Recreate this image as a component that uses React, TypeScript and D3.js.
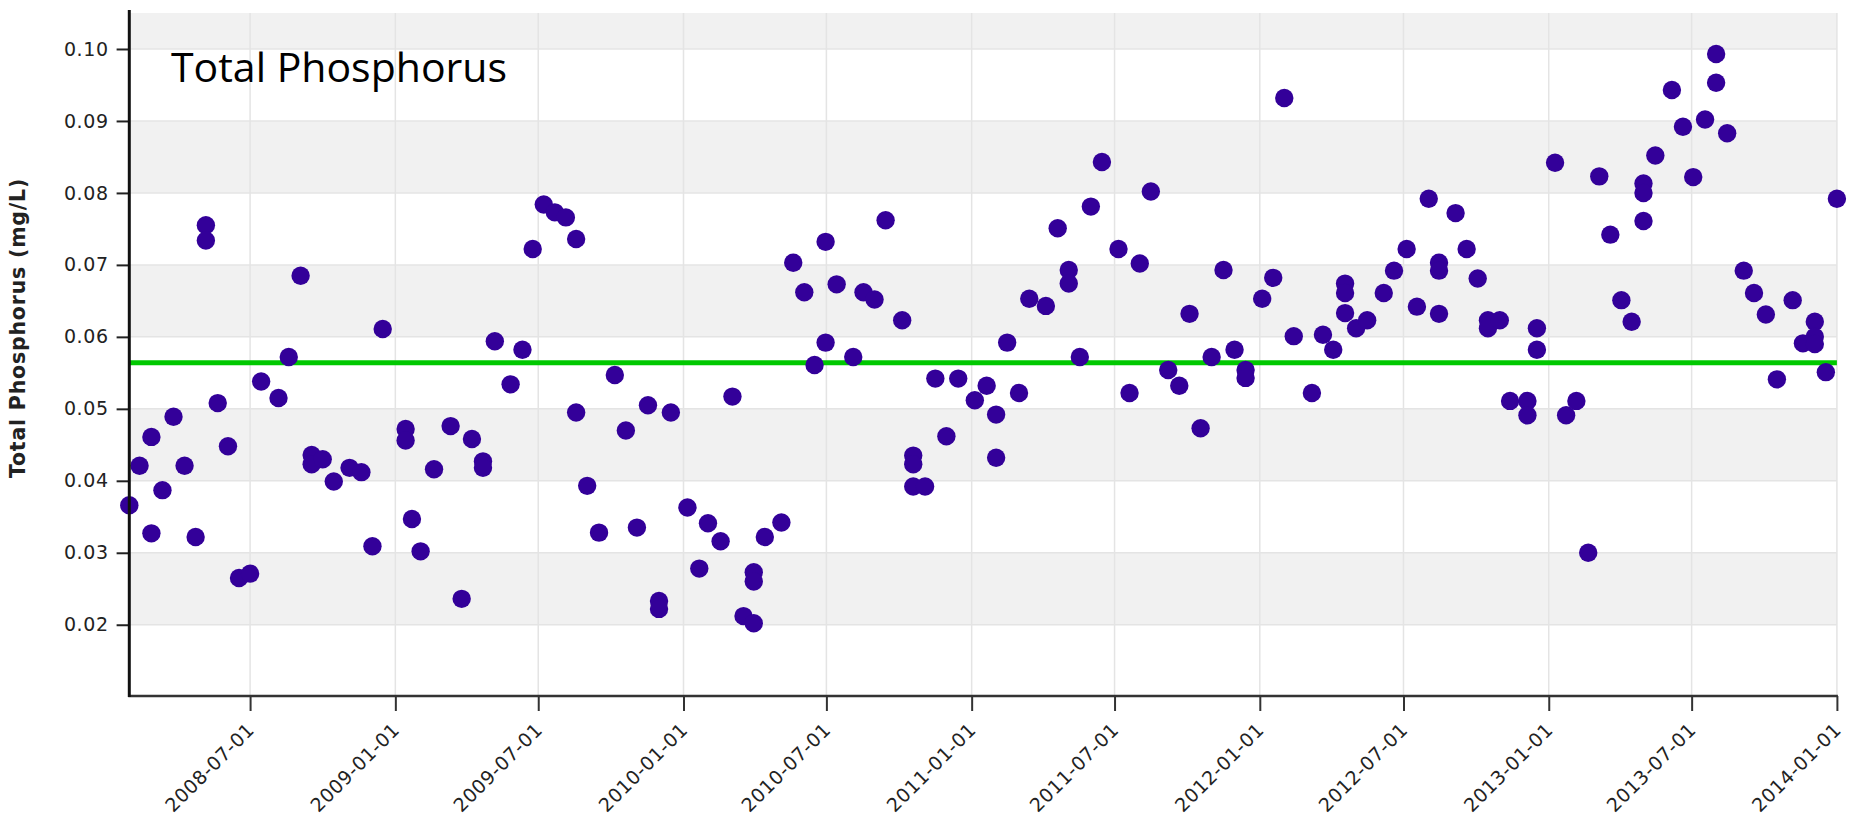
import React, { useEffect, useRef } from "react";
import * as d3 from "d3";

// ---- data ----
const sampleDates: string[] = [
  "2008-01-30","2008-02-12","2008-02-27","2008-02-27","2008-03-12","2008-03-26","2008-04-09","2008-04-23","2008-05-06","2008-05-06",
  "2008-05-21","2008-06-03","2008-06-17","2008-07-01","2008-07-15","2008-08-06","2008-08-19","2008-09-03","2008-09-17","2008-09-17",
  "2008-10-01","2008-10-15","2008-11-04","2008-11-19","2008-12-03","2008-12-16","2009-01-14","2009-01-14","2009-01-22","2009-02-02",
  "2009-02-19","2009-03-12","2009-03-26","2009-04-08","2009-04-22","2009-04-22","2009-05-07","2009-05-27","2009-06-11","2009-06-24",
  "2009-07-08","2009-07-22","2009-08-05","2009-08-18","2009-08-18","2009-09-01","2009-09-16","2009-10-06","2009-10-20","2009-11-03",
  "2009-11-17","2009-12-01","2009-12-01","2009-12-16","2010-01-06","2010-01-21","2010-02-01","2010-02-17","2010-03-04","2010-03-18",
  "2010-03-31","2010-03-31","2010-03-31","2010-04-14","2010-05-05","2010-05-20","2010-06-03","2010-06-16","2010-06-30","2010-06-30",
  "2010-07-14","2010-08-04","2010-08-17","2010-08-31","2010-09-14","2010-10-05","2010-10-19","2010-10-19","2010-10-19","2010-11-03",
  "2010-11-16","2010-11-30","2010-12-15","2011-01-05","2011-01-20","2011-02-01","2011-02-01","2011-02-15","2011-03-02","2011-03-15",
  "2011-04-05","2011-04-20","2011-05-04","2011-05-04","2011-05-18","2011-06-01","2011-06-15","2011-07-06","2011-07-20","2011-08-02",
  "2011-08-16","2011-09-07","2011-09-21","2011-10-04","2011-10-18","2011-11-01","2011-11-16","2011-11-30","2011-12-14","2011-12-14",
  "2012-01-04","2012-01-18","2012-02-01","2012-02-13","2012-03-07","2012-03-21","2012-04-03","2012-04-18","2012-04-18","2012-04-18",
  "2012-05-02","2012-05-16","2012-06-06","2012-06-19","2012-07-05","2012-07-18","2012-08-02","2012-08-15","2012-08-15","2012-08-15",
  "2012-09-05","2012-09-19","2012-10-03","2012-10-16","2012-10-16","2012-10-31","2012-11-13","2012-12-05","2012-12-05","2012-12-17",
  "2012-12-17","2013-01-09","2013-01-23","2013-02-05","2013-02-20","2013-03-06","2013-03-20","2013-04-03","2013-04-16","2013-05-01",
  "2013-05-01","2013-05-01","2013-05-16","2013-06-06","2013-06-20","2013-07-03","2013-07-18","2013-08-01","2013-08-01","2013-08-15",
  "2013-09-05","2013-09-18","2013-10-03","2013-10-17","2013-11-06","2013-11-19","2013-12-04","2013-12-04","2013-12-04","2013-12-18",
  "2014-01-01",
];

const tpValues: number[] = [
  0.0366, 0.0421, 0.0461, 0.0327, 0.0387, 0.0489, 0.0421, 0.0322, 0.0755, 0.0734,
  0.0508, 0.0448, 0.0265, 0.0271, 0.0538, 0.0515, 0.0572, 0.0685, 0.0436, 0.0423,
  0.0430, 0.0399, 0.0418, 0.0412, 0.0309, 0.0611, 0.0472, 0.0456, 0.0347, 0.0302,
  0.0416, 0.0476, 0.0236, 0.0458, 0.0427, 0.0418, 0.0594, 0.0534, 0.0582, 0.0722,
  0.0784, 0.0773, 0.0766, 0.0736, 0.0495, 0.0393, 0.0328, 0.0547, 0.0470, 0.0335,
  0.0505, 0.0233, 0.0222, 0.0495, 0.0363, 0.0278, 0.0341, 0.0316, 0.0517, 0.0212,
  0.0273, 0.0260, 0.0202, 0.0322, 0.0342, 0.0703, 0.0662, 0.0561, 0.0732, 0.0592,
  0.0673, 0.0572, 0.0662, 0.0652, 0.0762, 0.0623, 0.0435, 0.0423, 0.0392, 0.0392,
  0.0542, 0.0462, 0.0542, 0.0512, 0.0532, 0.0492, 0.0432, 0.0592, 0.0522, 0.0653,
  0.0643, 0.0751, 0.0693, 0.0674, 0.0572, 0.0781, 0.0843, 0.0722, 0.0522, 0.0702,
  0.0802, 0.0554, 0.0532, 0.0632, 0.0473, 0.0572, 0.0693, 0.0582, 0.0554, 0.0543,
  0.0653, 0.0682, 0.0932, 0.0601, 0.0522, 0.0603, 0.0582, 0.0674, 0.0661, 0.0633,
  0.0612, 0.0623, 0.0661, 0.0692, 0.0722, 0.0642, 0.0792, 0.0703, 0.0692, 0.0632,
  0.0772, 0.0722, 0.0681, 0.0623, 0.0612, 0.0623, 0.0511, 0.0511, 0.0491, 0.0612,
  0.0582, 0.0842, 0.0491, 0.0511, 0.0300, 0.0823, 0.0742, 0.0651, 0.0621, 0.0813,
  0.0800, 0.0761, 0.0852, 0.0943, 0.0892, 0.0822, 0.0902, 0.0993, 0.0953, 0.0883,
  0.0692, 0.0661, 0.0631, 0.0541, 0.0651, 0.0591, 0.0621, 0.0600, 0.0590, 0.0551,
  0.0792,
];

const yTickValues: number[] = [0.02, 0.03, 0.04, 0.05, 0.06, 0.07, 0.08, 0.09, 0.10];
const yDomain: [number, number] = [0.0101, 0.105];
const meanValue = 0.0564;
const chartTitle = "Total Phosphorus";
const yAxisTitle = "Total Phosphorus (mg/L)";

// ---- layout ----
const W = 1851;
const H = 822;
const PLOT = { left: 129.3, right: 1836.9, top: 13, bottom: 696 };

export default function App() {
  const ref = useRef<SVGSVGElement | null>(null);

  useEffect(() => {
    const svg = d3.select(ref.current);
    svg.selectAll("*").remove();

    const parse = d3.timeParse("%Y-%m-%d");
    const data = sampleDates.map((d, i) => ({ date: parse(d) as Date, value: tpValues[i] }));

    const x = d3
      .scaleTime()
      .domain(d3.extent(data, (d) => d.date) as [Date, Date])
      .range([PLOT.left, PLOT.right]);
    const y = d3.scaleLinear().domain(yDomain).range([PLOT.bottom, PLOT.top]);

    svg.append("rect").attr("width", W).attr("height", H).attr("fill", "#ffffff");

    // alternating bands
    const edges = [yDomain[0], ...yTickValues, yDomain[1]];
    const bands = d3.range(edges.length - 1).map((i) => ({ lo: edges[i], hi: edges[i + 1], grey: i % 2 === 1 }));
    svg
      .append("g")
      .selectAll("rect")
      .data(bands.filter((b) => b.grey))
      .join("rect")
      .attr("x", PLOT.left)
      .attr("width", PLOT.right - PLOT.left)
      .attr("y", (b) => y(b.hi))
      .attr("height", (b) => y(b.lo) - y(b.hi))
      .attr("fill", "#f1f1f1");

    const xTicks = x.ticks(d3.timeMonth.every(6) as d3.TimeInterval);

    // grid lines
    svg
      .append("g")
      .selectAll("line")
      .data(yTickValues)
      .join("line")
      .attr("x1", PLOT.left)
      .attr("x2", PLOT.right)
      .attr("y1", (d) => y(d))
      .attr("y2", (d) => y(d))
      .attr("stroke", "#e4e4e4")
      .attr("stroke-width", 1.5);
    svg
      .append("g")
      .selectAll("line")
      .data(xTicks)
      .join("line")
      .attr("x1", (d) => x(d))
      .attr("x2", (d) => x(d))
      .attr("y1", PLOT.top)
      .attr("y2", PLOT.bottom)
      .attr("stroke", "#e4e4e4")
      .attr("stroke-width", 1.5);

    // mean line
    svg
      .append("line")
      .attr("x1", PLOT.left)
      .attr("x2", PLOT.right)
      .attr("y1", y(meanValue))
      .attr("y2", y(meanValue))
      .attr("stroke", "#00c800")
      .attr("stroke-width", 5);

    // points
    svg
      .append("g")
      .selectAll("circle")
      .data(data)
      .join("circle")
      .attr("cx", (d) => x(d.date))
      .attr("cy", (d) => y(d.value))
      .attr("r", 9.2)
      .attr("fill", "#330099");

    // y axis
    const yAxis = d3
      .axisLeft(y)
      .tickValues(yTickValues)
      .tickFormat(d3.format(".2f") as any)
      .tickSize(12.7)
      .tickSizeOuter(0)
      .tickPadding(8);
    const gy = svg.append("g").attr("transform", `translate(${PLOT.left},0)`).call(yAxis);
    gy.select(".domain").remove();
    gy.selectAll(".tick line").attr("stroke", "#222").attr("stroke-width", 2);
    gy.selectAll(".tick text")
      .attr("fill", "#222")
      .style("font-family", "'DejaVu Sans', Verdana, sans-serif")
      .style("font-size", "19px")
      .style("letter-spacing", "0.6px");

    // x axis
    const xAxis = d3
      .axisBottom(x)
      .tickValues(xTicks)
      .tickFormat(d3.timeFormat("%Y-%m-%d") as any)
      .tickSize(15)
      .tickSizeOuter(0);
    const gx = svg.append("g").attr("transform", `translate(0,${PLOT.bottom})`).call(xAxis);
    gx.select(".domain").remove();
    gx.selectAll(".tick line").attr("stroke", "#333").attr("stroke-width", 2);
    gx.selectAll(".tick text")
      .attr("y", null)
      .attr("dy", null)
      .attr("transform", "translate(5,35) rotate(-45)")
      .style("text-anchor", "end")
      .attr("fill", "#222")
      .style("font-family", "'DejaVu Sans', Verdana, sans-serif")
      .style("font-size", "19px")
      .style("letter-spacing", "0.6px");

    // axis lines
    svg
      .append("line")
      .attr("x1", PLOT.left - 1)
      .attr("x2", PLOT.right + 1)
      .attr("y1", PLOT.bottom)
      .attr("y2", PLOT.bottom)
      .attr("stroke", "#333")
      .attr("stroke-width", 2.5);
    svg
      .append("line")
      .attr("x1", PLOT.left)
      .attr("x2", PLOT.left)
      .attr("y1", PLOT.top - 3)
      .attr("y2", PLOT.bottom + 1)
      .attr("stroke", "#111")
      .attr("stroke-width", 3);

    // titles
    svg
      .append("text")
      .attr("x", 171)
      .attr("y", 82)
      .attr("fill", "#000")
      .style("font-family", "'Open Sans', sans-serif")
      .style("font-size", "41px")
      .text(chartTitle);

    svg
      .append("text")
      .attr("transform", "translate(25,328) rotate(-90)")
      .attr("text-anchor", "middle")
      .attr("fill", "#222")
      .style("font-family", "'DejaVu Sans', Verdana, sans-serif")
      .style("font-weight", "bold")
      .style("font-size", "20.5px")
      .style("letter-spacing", "0.8px")
      .text(yAxisTitle);
  }, []);

  return (
    <svg
      ref={ref}
      width={W}
      height={H}
      style={{ position: "absolute", left: 0, top: 0, display: "block" }}
    />
  );
}
